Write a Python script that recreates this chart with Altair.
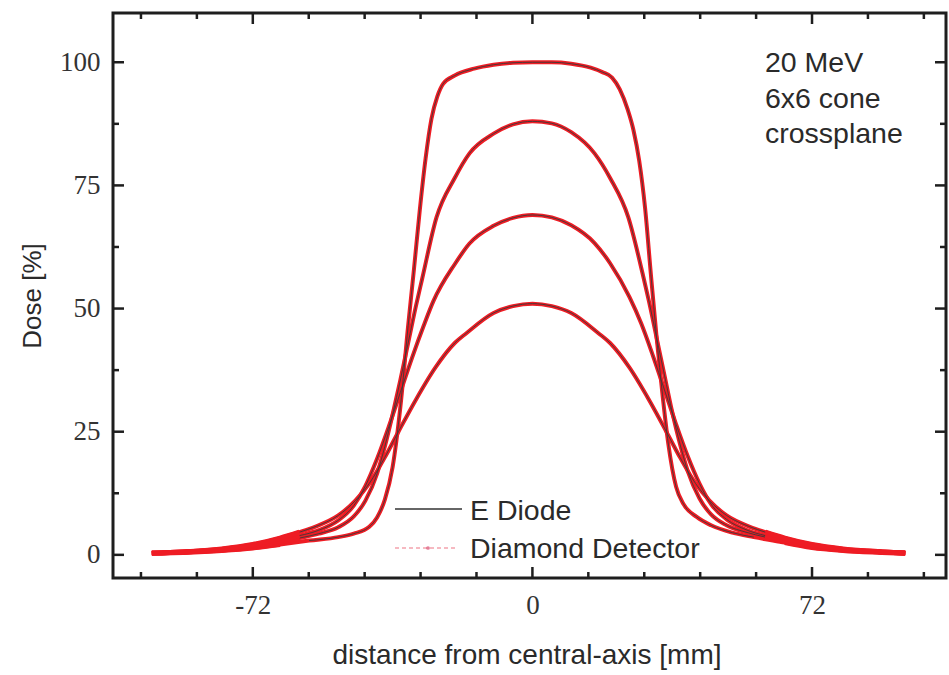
import altair as alt
import pandas as pd

# Crossplane dose profiles, 20 MeV, 6x6 cone, four depths (normalised dose in %).
# Shallowest depth (peak 100 %)
p1_x = [-98, -90, -80, -72, -65, -57.5, -50, -46, -42, -40, -38, -36, -34, -32, -30.5,
        -29, -27.5, -26, -24.5, -23, -20, -15, -10, -5, 0, 5, 10, 15, 18, 20.5, 22.5,
        24.5, 26, 27.5, 29, 30.5, 32, 33.5, 35, 37, 39, 42.3, 46, 51.5, 57, 65, 72, 80, 90, 96]
p1_dose = [0.3, 0.5, 0.9, 1.4, 2.1, 2.9, 3.6, 4.3, 5.7, 7.6, 11.2, 17.8, 30, 46.5, 58,
           70, 80.5, 88.5, 93, 95.6, 97.3, 98.7, 99.5, 99.9, 100, 100, 99.7, 98.9, 98, 96.9, 94.5,
           90.5, 86.3, 80, 70.5, 57, 44, 32.5, 22.5, 13.8, 10.2, 7.7, 6, 4.5, 3.6, 2.5, 1.5, 0.9, 0.5, 0.3]

# Second depth (peak 88 %)
p2_x = [-98, -90, -80, -72, -65, -60, -55, -50, -46, -43, -40, -38, -36, -34, -32, -30,
        -28.4, -24.7, -20, -16.2, -10, -5, 0, 5, 10, 16, 20, 24.7, 28.4, 30, 32, 34, 36,
        38, 40, 43, 46, 50, 55, 60, 65, 72, 80, 90, 96]
p2_dose = [0.35, 0.6, 1.0, 1.7, 2.6, 3.4, 4.3, 5.6, 7.8, 11, 16.5, 22, 28.5, 35.5, 43, 50.5,
           56, 68.5, 76.5, 81.5, 85.5, 87.4, 88, 87.6, 85.8, 81.5, 76.5, 68.5, 57, 51.5, 44, 36.5, 29,
           22.5, 17, 11.5, 8.2, 6, 4.6, 3.6, 2.7, 1.7, 1.0, 0.6, 0.35]

# Third depth (peak 69 %)
p3_x = [-98, -90, -80, -72, -65, -60, -55, -50, -46, -43, -40, -37, -34, -31, -28, -25.5,
        -20, -16.2, -10, -5, 0, 5, 10, 16, 20, 25, 28, 31, 34, 37, 40, 43, 46, 50, 55,
        60, 65, 72, 80, 90, 96]
p3_dose = [0.35, 0.6, 1.1, 1.9, 2.9, 3.9, 5, 7, 10, 14, 19.5, 26, 33, 40, 46.5, 51.5,
           59, 63.2, 66.8, 68.4, 69, 68.5, 66.9, 63.3, 59.2, 52.3, 47, 40.5, 33.5, 26.5, 20, 14.5,
           10.3, 7.2, 5.1, 3.9, 2.9, 1.9, 1.1, 0.6, 0.35]

# Deepest profile (peak 51 %)
p4_x = [-98, -90, -80, -72, -65, -60, -56, -50, -45.6, -42, -38, -34.5, -30, -25, -20,
        -17, -10, -5, 0, 5, 10, 17, 20, 25, 30, 34.5, 38, 42, 45.6, 50, 56, 60, 65, 72,
        80, 90, 96]
p4_dose = [0.35, 0.6, 1.2, 2.1, 3.4, 4.6, 5.7, 8, 11, 14.5, 19.8, 25, 31.5, 38, 43,
           45, 49.1, 50.5, 51, 50.5, 49.1, 45, 43, 38, 31.5, 25, 19.8, 14.5, 11, 8, 5.7, 4.6, 3.4, 2.1,
           1.2, 0.6, 0.35]

profiles = [("p1", p1_x, p1_dose), ("p2", p2_x, p2_dose),
            ("p3", p3_x, p3_dose), ("p4", p4_x, p4_dose)]

rows = []
for name, xs, ds in profiles:
    for i, (xv, dv) in enumerate(zip(xs, ds)):
        rows.append({"profile": name, "order": i, "x": xv, "dose": dv})
df = pd.DataFrame(rows)

# Axis ticks (minor every 14.4 mm / 12.5 %)
x_ticks = [-100.8, -86.4, -72, -57.6, -43.2, -28.8, -14.4, 0, 14.4, 28.8, 43.2, 57.6, 72, 86.4, 100.8]
x_major = [-72, 0, 72]
y_ticks = [0, 12.5, 25, 37.5, 50, 62.5, 75, 87.5, 100]
y_major = [0, 25, 50, 75, 100]

W, H = 833, 565
RED = "#ee1c24"
INK = "#1e1e1e"
TXT = "#2a2a2a"

x_scale = alt.Scale(domain=[-108, 106.5], nice=False, zero=False)
y_scale = alt.Scale(domain=[-4.7, 110], nice=False, zero=False)

x_axis = alt.Axis(values=x_major, labelFont="Liberation Serif", labelFontSize=27,
                  labelColor="#333333", labelPadding=14, ticks=False, domain=False, grid=False,
                  labelExpr="datum.value < 0 ? '-' + abs(datum.value) : datum.label",
                  title="distance from central-axis [mm]", titleFont="Liberation Sans",
                  titleFontSize=28, titleFontWeight="normal", titleColor=TXT,
                  titleX=W / 2 - 3, titleY=85, titleAlign="center", titleBaseline="alphabetic")
y_axis = alt.Axis(values=y_major, labelFont="Liberation Serif", labelFontSize=27,
                  labelColor="#333333", labelPadding=13, ticks=False, domain=False, grid=False,
                  title="Dose [%]", titleFont="Liberation Sans", titleFontSize=26,
                  titleFontWeight="normal", titleColor=TXT, titleAngle=270,
                  titleX=-73, titleY=H / 2, titleAlign="center", titleBaseline="alphabetic")


def profile_line(width, color, where=None):
    layer = alt.Chart(df).mark_line(color=color, strokeWidth=width, interpolate="monotone").encode(
        x=alt.X("x:Q", scale=x_scale),
        y=alt.Y("dose:Q", scale=y_scale),
        detail="profile:N",
        order="order:Q",
    )
    return layer.transform_filter(where) if where else layer


# Diamond detector: red curves (this layer carries the axes)
diamond = alt.Chart(df).mark_line(color=RED, strokeWidth=4, interpolate="monotone").encode(
    x=alt.X("x:Q", scale=x_scale, axis=x_axis),
    y=alt.Y("dose:Q", scale=y_scale, axis=y_axis),
    detail="profile:N",
    order="order:Q",
)

# E Diode: thin dark line running inside the red curves
diode = profile_line(0.9, "#3a3a3a", "abs(datum.x) <= 64")

# Low-dose tails, where the diamond points pile up into one broad red band
tail_left = profile_line(5, RED, "datum.x <= -60")
tail_right = profile_line(5, RED, "datum.x >= 60")

xt_df = pd.DataFrame({"x": x_ticks, "major": [v in x_major for v in x_ticks]})
yt_df = pd.DataFrame({"dose": y_ticks, "major": [v in y_major for v in y_ticks]})


def x_tick_layer(major, y0, y1):
    return alt.Chart(xt_df).mark_rule(color=INK, strokeWidth=2.5).encode(
        x=alt.X("x:Q", scale=x_scale), y=alt.value(y0), y2=alt.value(y1)
    ).transform_filter(f"datum.major == {'true' if major else 'false'}")


def y_tick_layer(major, x0, x1):
    return alt.Chart(yt_df).mark_rule(color=INK, strokeWidth=2.5).encode(
        y=alt.Y("dose:Q", scale=y_scale), x=alt.value(x0), x2=alt.value(x1)
    ).transform_filter(f"datum.major == {'true' if major else 'false'}")


MAJ, MIN = 11, 6
ticks = [
    x_tick_layer(True, H, H - MAJ), x_tick_layer(False, H, H - MIN),
    x_tick_layer(True, 0, MAJ), x_tick_layer(False, 0, MIN),
    y_tick_layer(True, 0, MAJ), y_tick_layer(False, 0, MIN),
    y_tick_layer(True, W, W - MAJ), y_tick_layer(False, W, W - MIN),
]

# Legend
one = pd.DataFrame({"k": [0]})
leg_diode_line = alt.Chart(one).mark_rule(color="#333333", strokeWidth=1.5).encode(
    x=alt.value(282), x2=alt.value(349), y=alt.value(496))
leg_diamond_line = alt.Chart(one).mark_rule(color="#f4a3ad", strokeWidth=1.5,
                                            strokeDash=[4, 3]).encode(
    x=alt.value(282), x2=alt.value(342), y=alt.value(535))
leg_diamond_dot = alt.Chart(one).mark_point(filled=True, color="#d9486e", size=14).encode(
    x=alt.value(315), y=alt.value(535))
leg_text = alt.Chart(pd.DataFrame({"label": ["E Diode", "Diamond Detector"],
                                   "py": [507, 545]})).mark_text(
    align="left", baseline="alphabetic", font="Liberation Sans", fontSize=28.5, color=TXT
).encode(x=alt.value(357), y=alt.Y("py:Q", scale=None), text="label:N")

# Beam annotation
note = alt.Chart(one).mark_text(
    align="left", baseline="alphabetic", font="Liberation Sans", fontSize=28.5, color=TXT,
    lineBreak="\n", lineHeight=35.5
).encode(x=alt.value(652), y=alt.value(59), text=alt.value("20 MeV\n6x6 cone\ncrossplane"))

chart = alt.layer(
    diamond, diode, tail_left, tail_right, *ticks,
    leg_diode_line, leg_diamond_line, leg_diamond_dot, leg_text, note
).properties(
    width=W, height=H,
    autosize=alt.AutoSizeParams(type="none"),
    padding={"left": 113, "top": 13, "right": 3, "bottom": 97},
    background="white",
).configure_view(stroke=INK, strokeWidth=3)

chart.save("out.html", embed_options={"renderer": "svg", "actions": False})
